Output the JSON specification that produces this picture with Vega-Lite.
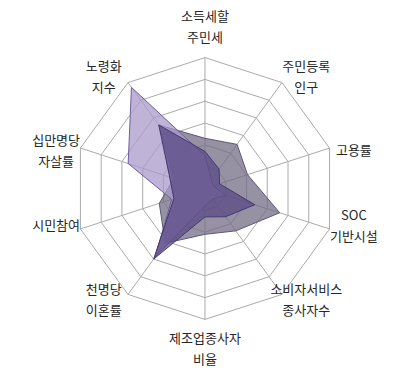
{
  "$schema": "https://vega.github.io/schema/vega-lite/v6.json",
  "width": 401,
  "height": 372,
  "padding": 0,
  "autosize": "none",
  "background": "white",
  "config": {"view": {"stroke": null}},
  "datasets": {
    "axes": [
      {"idx": 0, "label": "소득세할\n주민세"},
      {"idx": 1, "label": "주민등록\n인구"},
      {"idx": 2, "label": "고용률"},
      {"idx": 3, "label": "SOC\n기반시설"},
      {"idx": 4, "label": "소비자서비스\n종사자수"},
      {"idx": 5, "label": "제조업종사자\n비율"},
      {"idx": 6, "label": "천명당\n이혼률"},
      {"idx": 7, "label": "시민참여"},
      {"idx": 8, "label": "십만명당\n자살률"},
      {"idx": 9, "label": "노령화\n지수"}
    ],
    "series": [
      {"s": "1", "idx": 0, "v": 2.3}, {"s": "1", "idx": 1, "v": 2.5}, {"s": "1", "idx": 2, "v": 2.05}, {"s": "1", "idx": 3, "v": 3.6}, {"s": "1", "idx": 4, "v": 2.4},
      {"s": "1", "idx": 5, "v": 2.1}, {"s": "1", "idx": 6, "v": 3.1}, {"s": "1", "idx": 7, "v": 2.2}, {"s": "1", "idx": 8, "v": 1.5}, {"s": "1", "idx": 9, "v": 3.6},
      {"s": "2", "idx": 0, "v": 1.5}, {"s": "2", "idx": 1, "v": 0.5}, {"s": "2", "idx": 2, "v": 0.4}, {"s": "2", "idx": 3, "v": 1.0}, {"s": "2", "idx": 4, "v": 0.6},
      {"s": "2", "idx": 5, "v": 0.8}, {"s": "2", "idx": 6, "v": 3.9}, {"s": "2", "idx": 7, "v": 1.6}, {"s": "2", "idx": 8, "v": 3.7}, {"s": "2", "idx": 9, "v": 5.73},
      {"s": "3", "idx": 0, "v": 1.7}, {"s": "3", "idx": 1, "v": 1.1}, {"s": "3", "idx": 2, "v": 0.7}, {"s": "3", "idx": 3, "v": 2.4}, {"s": "3", "idx": 4, "v": 1.6},
      {"s": "3", "idx": 5, "v": 1.3}, {"s": "3", "idx": 6, "v": 4.0}, {"s": "3", "idx": 7, "v": 1.5}, {"s": "3", "idx": 8, "v": 1.7}, {"s": "3", "idx": 9, "v": 3.6}
    ]
  },
  "layer": [
    {
      "data": {"name": "axes"},
      "transform": [
        {"calculate": "[1,2,3,4,5,6]", "as": "levels"},
        {"flatten": ["levels"], "as": ["level"]},
        {"calculate": "datum.level * sin(datum.idx * PI / 5)", "as": "x"},
        {"calculate": "datum.level * cos(datum.idx * PI / 5)", "as": "y"}
      ],
      "mark": {"type": "line", "interpolate": "linear-closed", "stroke": "#ababab", "strokeWidth": 1},
      "encoding": {
        "x": {"field": "x", "type": "quantitative", "scale": {"domain": [-9.39, 8.98], "nice": false, "zero": false}, "axis": null},
        "y": {"field": "y", "type": "quantitative", "scale": {"domain": [-8.41, 8.64], "nice": false, "zero": false}, "axis": null},
        "detail": {"field": "level", "type": "nominal"},
        "order": {"field": "idx", "type": "quantitative"}
      }
    },
    {
      "data": {"name": "axes"},
      "transform": [
        {"calculate": "6 * sin(datum.idx * PI / 5)", "as": "x"},
        {"calculate": "6 * cos(datum.idx * PI / 5)", "as": "y"}
      ],
      "mark": {"type": "rule", "stroke": "#ababab", "strokeWidth": 1},
      "encoding": {
        "x": {"field": "x", "type": "quantitative"},
        "y": {"field": "y", "type": "quantitative"},
        "x2": {"datum": 0},
        "y2": {"datum": 0}
      }
    },
    {
      "data": {"name": "series"},
      "transform": [
        {"calculate": "datum.v * sin(datum.idx * PI / 5)", "as": "x"},
        {"calculate": "datum.v * cos(datum.idx * PI / 5)", "as": "y"}
      ],
      "mark": {"type": "line", "interpolate": "linear-closed", "strokeWidth": 1, "fillOpacity": 0.75},
      "encoding": {
        "x": {"field": "x", "type": "quantitative"},
        "y": {"field": "y", "type": "quantitative"},
        "fill": {"field": "s", "type": "nominal", "scale": {"domain": ["1", "2", "3"], "range": ["#736d85", "#a99bcb", "#5a4a86"]}, "legend": null},
        "stroke": {"field": "s", "type": "nominal", "scale": {"domain": ["1", "2", "3"], "range": ["#5e5674", "#6e5e98", "#46376f"]}, "legend": null},
        "order": {"field": "idx", "type": "quantitative"}
      }
    },
    {
      "data": {"name": "axes"},
      "transform": [
        {"calculate": "sin(datum.idx * PI / 5)", "as": "s"},
        {"calculate": "cos(datum.idx * PI / 5)", "as": "c"},
        {"calculate": "7.1 * (datum.s < 0 ? -1 : 1) * pow(abs(datum.s), 0.8)", "as": "lx"},
        {"calculate": "5.5 * datum.c + 1.88 * pow(datum.c, 5) + (indexof(datum.label, '\\n') >= 0 ? 0.46 : 0)", "as": "ly"}
      ],
      "mark": {"type": "text", "lineBreak": "\n", "font": "Noto Sans CJK KR", "fontSize": 13, "color": "#262626", "align": "center", "baseline": "middle", "lineHeight": 21},
      "encoding": {
        "x": {"field": "lx", "type": "quantitative"},
        "y": {"field": "ly", "type": "quantitative"},
        "text": {"field": "label"}
      }
    }
  ]
}
